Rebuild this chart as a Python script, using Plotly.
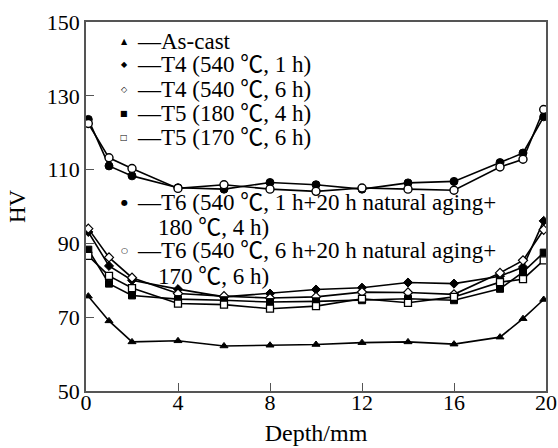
import plotly.graph_objects as go

depth = [0.1, 1, 2, 4, 6, 8, 10, 12, 14, 16, 18, 19, 19.9]

as_cast = [75.7, 69.0, 63.3, 63.6, 62.2, 62.4, 62.6, 63.1, 63.3, 62.7, 64.6, 69.6, 74.8]
t4_1h = [93.1, 83.9, 80.0, 77.6, 75.5, 76.4, 77.5, 78.0, 79.4, 79.1, 81.1, 83.6, 96.1]
t4_6h = [94.0, 86.2, 80.7, 76.4, 75.7, 75.2, 75.5, 76.8, 76.7, 76.2, 82.0, 85.4, 93.7]
t5_4h = [88.3, 79.1, 75.9, 74.9, 74.6, 74.1, 74.3, 74.6, 75.0, 74.6, 77.7, 82.2, 87.5]
t5_6h = [86.6, 81.2, 77.9, 73.7, 73.4, 72.3, 73.0, 75.0, 73.9, 75.5, 79.5, 80.3, 85.4]
t6_1h = [123.6, 111.0, 108.3, 105.1, 104.7, 106.5, 105.9, 104.7, 106.4, 106.8, 111.9, 114.5, 124.3]
t6_6h = [122.5, 113.2, 110.3, 104.9, 105.9, 104.7, 104.1, 105.0, 104.7, 104.4, 110.7, 112.8, 126.3]

x_ticks = [0, 4, 8, 12, 16, 20]
y_ticks = [50, 70, 90, 110, 130, 150]

legend_labels = [
    ["As-cast"],
    ["T4 (540 ℃, 1 h)"],
    ["T4 (540 ℃, 6 h)"],
    ["T5 (180 ℃, 4 h)"],
    ["T5 (170 ℃, 6 h)"],
    ["T6 (540 ℃, 1 h+20 h natural aging+", "180 ℃, 4 h)"],
    ["T6 (540 ℃, 6 h+20 h natural aging+", "170 ℃, 6 h)"],
]
legend_glyphs = ["▲", "◆", "◇", "■", "□", "●", "○"]

series = [as_cast, t4_1h, t4_6h, t5_4h, t5_6h, t6_1h, t6_6h]
styles = [
    dict(symbol="triangle-up", size=7, color="black", line=dict(color="black", width=1)),
    dict(symbol="diamond", size=7, color="black", line=dict(color="black", width=1)),
    dict(symbol="diamond", size=7, color="white", line=dict(color="black", width=1.2)),
    dict(symbol="square", size=7, color="black", line=dict(color="black", width=1)),
    dict(symbol="square", size=7, color="white", line=dict(color="black", width=1.3)),
    dict(symbol="circle", size=8, color="black", line=dict(color="black", width=1)),
    dict(symbol="circle", size=8, color="white", line=dict(color="black", width=1.4)),
]

fig = go.Figure()
for lab, ys, st in zip(legend_labels, series, styles):
    fig.add_trace(go.Scatter(
        x=depth, y=ys, mode="lines+markers", name=" ".join(lab),
        line=dict(color="black", width=1.6),
        marker=st, showlegend=False,
    ))

FONT = "Liberation Serif, Noto Sans CJK SC, serif"

# plot area in pixels
L, R, T, B = 86, 546, 22, 391
W, H = 558, 448

def px(x):
    return (x - L) / (R - L)

def py(y):
    return (B - y) / (B - T)

row_y = [[42], [65], [89], [113], [137], [202, 227], [251, 276]]
annotations = []
for lab, g, yys in zip(legend_labels, legend_glyphs, row_y):
    annotations.append(dict(
        x=px(124), y=py(yys[0]), xref="paper", yref="paper", text=g,
        showarrow=False, xanchor="center", yanchor="middle",
        font=dict(family="DejaVu Sans", size=8, color="black"),
    ))
    for i, (line, yy) in enumerate(zip(lab, yys)):
        annotations.append(dict(
            x=px(136 if i == 0 else 157), y=py(yy), xref="paper", yref="paper",
            text=("—" + line) if i == 0 else line,
            showarrow=False, xanchor="left", yanchor="middle",
            borderpad=0,
            font=dict(family=FONT, size=23, color="black"),
        ))

fig.update_layout(
    width=W, height=H,
    margin=dict(l=L, r=W - R, t=T, b=H - B),
    paper_bgcolor="white", plot_bgcolor="white",
    font=dict(family=FONT, size=22, color="black"),
    annotations=annotations,
    showlegend=False,
)
fig.update_xaxes(
    range=[0, 20], tickvals=x_ticks, ticks="inside", ticklen=8, tickwidth=1.3,
    tickcolor="#555", showline=True, linecolor="#555", linewidth=1.6, mirror=True,
    showgrid=False, zeroline=False, automargin=False,
    ticklabelstandoff=-9,
    title=dict(text="Depth/mm", font=dict(size=24), standoff=10),
    tickfont=dict(size=22),
)
fig.update_yaxes(
    range=[50, 150], tickvals=y_ticks, ticks="inside", ticklen=8, tickwidth=1.3,
    tickcolor="#555", showline=True, linecolor="#555", linewidth=1.6, mirror=True,
    showgrid=False, zeroline=False, automargin=False,
    title=dict(text="HV", font=dict(size=23), standoff=15),
    tickfont=dict(size=22),
)

fig.write_html("out.html")
